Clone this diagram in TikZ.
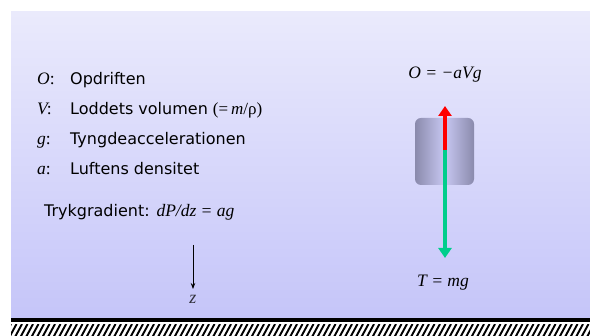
\documentclass[tikz,border=0pt]{standalone}
\usepackage{fontspec}
\setmainfont{DejaVu Sans}
\newfontfamily\tms{Liberation Serif}
\usetikzlibrary{arrows.meta}
\definecolor{bgtop}{RGB}{234,234,252}
\definecolor{bgbot}{RGB}{197,197,249}
\definecolor{boxedge}{RGB}{138,138,172}
\definecolor{boxmid}{RGB}{200,200,242}
\definecolor{upred}{RGB}{255,0,0}
\definecolor{downgreen}{RGB}{0,206,140}
\definecolor{zgray}{RGB}{50,50,60}
\tikzset{
  lbl/.style={anchor=base west, inner sep=0pt, font=\tms\itshape\fontsize{17.5}{20}\selectfont},
  txt/.style={anchor=base west, inner sep=0pt, font=\fontsize{16}{19}\selectfont},
  eq/.style={anchor=base, inner sep=0pt, font=\tms\itshape\fontsize{17.5}{20}\selectfont},
  force/.style={line width=4pt, -{Triangle[length=10pt,width=13pt]}},
}
\begin{document}
\begin{tikzpicture}[x=1pt,y=-1pt]
\useasboundingbox (0,0) rectangle (590,336);
% background panel
\fill[top color=bgtop, bottom color=bgbot] (11,12) rectangle (590,318.5);
% ground
\fill[black] (11,318.5) rectangle (590,322.5);
\begin{scope}
  \clip (11,325) rectangle (590,336);
  \foreach \x in {4,9.5,...,596} {
    \draw[line width=1.9pt] (\x,337) -- (\x+7,324);
  }
\end{scope}
% left legend
\node[lbl] (lO) at (37,85) {O\textup{:}};
\node[txt] (tO) at (70,85) {Opdriften};
\node[lbl] (lV) at (37,115) {V\kern-1pt\textup{:}};
\node[txt] (tV) at (70,115) {Loddets volumen \tms\fontsize{17}{19}\selectfont(=\,\textit{m}/ρ)};
\node[lbl] (lg) at (37,145) {g\textup{:}};
\node[txt] (tg) at (70,145) {Tyngdeaccelerationen};
\node[lbl] (la) at (37,175) {a\textup{:}};
\node[txt] (ta) at (70,175) {Luftens densitet};
\node[txt] (tryk) at (44,217) {Trykgradient: {\tms\itshape\fontsize{17.5}{20}\selectfont dP/dz = ag}};
% z axis
\coordinate (ztop) at (193,245);
\node[anchor=north, inner xsep=0pt, inner ysep=0pt, outer sep=0pt, text=zgray,
  font=\tms\itshape\fontsize{18}{20}\selectfont, text depth=0pt, text height=15pt] (zlab) at (193,289) {z};
\draw[line width=0.8pt, -{Stealth[length=6pt,width=4.5pt]}] (ztop) -- (zlab.north);
% box
\node[draw=none, rounded corners=6pt, minimum width=59pt, minimum height=67pt, inner sep=0pt,
  left color=boxedge, right color=boxedge, middle color=boxmid] (box) at (444.5,151.5) {};
% forces
\coordinate (c) at (445,150);
\node[eq] (Oeq) at (445,79) {O = −aVg};
\node[eq] (Teq) at (443,287) {T = mg};
\coordinate (uptip) at (445,106);
\coordinate (dntip) at (445,258);
\draw[force, draw=upred, fill=upred] (c) -- (uptip);
\draw[force, draw=downgreen, fill=downgreen] (c) -- (dntip);
\end{tikzpicture}
\end{document}
